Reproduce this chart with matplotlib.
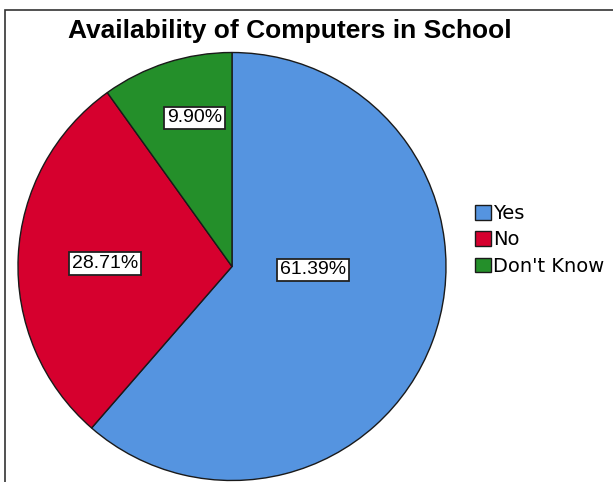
import matplotlib.pyplot as plt
from matplotlib.patches import Rectangle

categories = ["Yes", "No", "Don't Know"]
percents = [61.39, 28.71, 9.90]
colors = ["#5594e0", "#d6002e", "#248f2a"]

plt.rcParams['font.family'] = ['Liberation Sans', 'DejaVu Sans']

W, H = 613, 482
fig = plt.figure(figsize=(W / 100, H / 100), dpi=100)

# outer frame
fig.patches.append(Rectangle((5 / W, -0.05), 1.0, (H - 10) / H + 0.05,
                             transform=fig.transFigure, fill=False,
                             edgecolor='#333333', linewidth=1.2))

fig.text(290 / W, 1 - 31 / H, 'Availability of Computers in School',
         ha='center', va='center', fontsize=19, fontweight='bold')

# pie axes: centre (232, 266.5), radius 214 px
cx, cy, r = 232, 266.5, 214
ax = fig.add_axes([(cx - r) / W, (H - cy - r) / H, 2 * r / W, 2 * r / H])
wedges, _ = ax.pie(percents, colors=colors, startangle=90, counterclock=False,
                   radius=1.0, wedgeprops=dict(edgecolor='#1a1a1a', linewidth=1))
ax.set_xlim(-1, 1)
ax.set_ylim(-1, 1)
ax.set_aspect('equal')
ax.axis('off')

# label positions in pie units
label_pos = [(0.379, -0.016), (-0.595, 0.015), (-0.173, 0.694)]
for p, (lx, ly) in zip(percents, label_pos):
    ax.text(lx, ly, f'{p:.2f}%', ha='center', va='center', fontsize=14,
            bbox=dict(boxstyle='square,pad=0.15', facecolor='white',
                      edgecolor='#222222', linewidth=1.3))

leg = fig.legend(wedges, categories, loc='upper left',
                 bbox_to_anchor=(475 / W, 1 - 204 / H), frameon=False,
                 prop={'family': 'DejaVu Sans', 'size': 14},
                 handlelength=0.8, handleheight=0.8, handletextpad=0.15,
                 labelspacing=0.38, borderpad=0, borderaxespad=0)

fig.savefig('out.png', dpi=100)
